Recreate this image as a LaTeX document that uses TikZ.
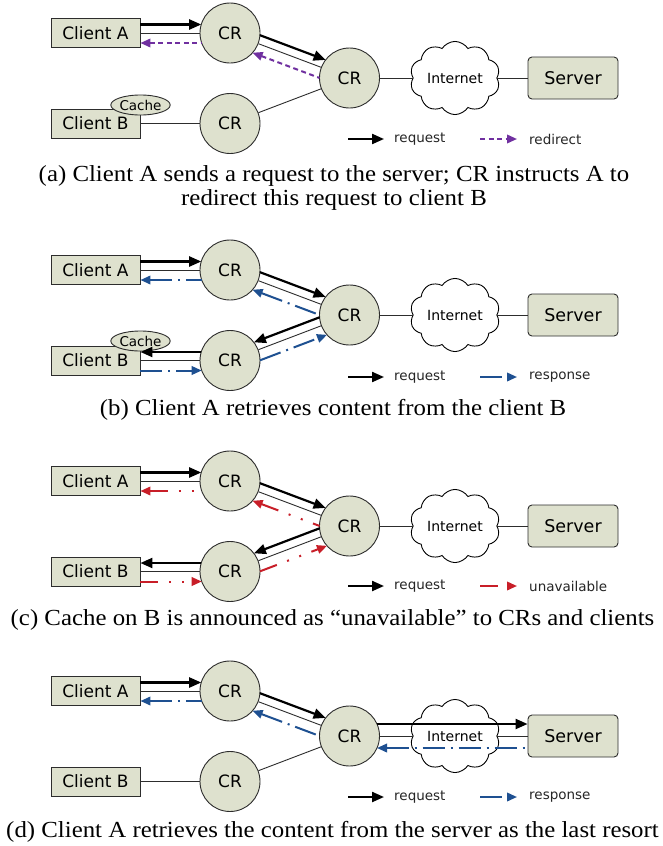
\documentclass[tikz,border=0pt]{standalone}
\usepackage{fontspec}
\usepackage{graphicx}
\setmainfont{Liberation Serif}
\newfontfamily\dfont{DejaVu Sans}
\usetikzlibrary{calc,arrows.meta,shapes.symbols,shapes.geometric}
\definecolor{nodefill}{RGB}{222,225,206}
\definecolor{edgegray}{RGB}{45,45,45}
\definecolor{purp}{RGB}{112,48,160}
\definecolor{blu}{RGB}{30,80,145}
\definecolor{rd}{RGB}{200,30,40}
\tikzset{
 client/.style={draw=edgegray, line width=0.9pt, fill=nodefill, minimum width=89pt, minimum height=29pt, inner sep=0pt, font=\dfont\fontsize{17}{17}\selectfont},
 crnode/.style={circle, draw=edgegray, line width=0.9pt, fill=nodefill, minimum size=60pt, inner sep=0pt, font=\dfont\fontsize{17}{17}\selectfont},
 servernode/.style={draw=edgegray, line width=0.9pt, fill=nodefill, rounded corners=4pt, minimum width=90pt, minimum height=42pt, inner sep=0pt, font=\dfont\fontsize{17.5}{17.5}\selectfont},
 cloudnode/.style={cloud, cloud puffs=10, cloud puff arc=115, aspect=1.25, draw=black, line width=0.9pt, fill=white, minimum width=90pt, minimum height=66pt, inner sep=0pt, font=\dfont\fontsize{14}{14}\selectfont},
 cachenode/.style={ellipse, draw=edgegray, line width=0.9pt, fill=nodefill, minimum width=53pt, minimum height=20pt, inner sep=0pt, font=\dfont\fontsize{13.5}{13.5}\selectfont},
 thinline/.style={draw=edgegray, line width=0.9pt},
 reqline/.style={draw=black, line width=2.2pt, >={Triangle[length=12pt,width=10pt]}},
 redirline/.style={draw=purp, line width=2pt, dash pattern=on 5pt off 3.5pt, >={Triangle[length=10pt,width=8.5pt]}},
 respline/.style={draw=blu, line width=2pt, dash pattern=on 22pt off 6pt on 2pt off 6pt, >={Triangle[length=10pt,width=8.5pt]}},
 unavline/.style={draw=rd, line width=2pt, dash pattern=on 18pt off 11pt on 2pt off 11pt on 2pt off 11pt, >={Triangle[length=10pt,width=8.5pt]}},
 legendtext/.style={anchor=west, inner sep=0pt, font=\dfont\fontsize{13.5}{13.5}\selectfont, text=black!85},
 captiontext/.style={inner sep=0pt, font=\fontsize{23}{25}\selectfont},
}
\newcommand{\capline}[1]{\scalebox{1.08}[1]{#1}}
% circle-to-circle offset line: style, from, to, offset, dist, angle at from, angle at to
\newcommand{\cc}[7]{\draw[#1] ($(#2)!#5!(#3)!#4!#6:(#3)$) -- ($(#3)!#5!(#2)!#4!#7:(#2)$);}
\newcommand{\basepanel}[2]{%
 \begin{scope}[shift={(0,#2)}]
  \node[client] (#1A) at (95.5,33) {Client A};
  \node[client] (#1B) at (95.5,123.5) {Client B};
  \node[crnode] (#1c1) at (230,33) {CR};
  \node[crnode] (#1c3) at (230,123.5) {CR};
  \node[crnode] (#1h) at (349.5,78) {CR};
  \node[cloudnode] (#1n) at (455,78) {Internet};
  \node[servernode] (#1s) at (573,78) {Server};
 \end{scope}
 \draw[thinline] (#1A) -- (#1c1);
 \draw[thinline] (#1B) -- (#1c3);
 \draw[thinline] (#1c1) -- (#1h);
 \draw[thinline] (#1c3) -- (#1h);
 \draw[thinline] (#1h) -- (#1n);
 \draw[thinline] (#1n) -- (#1s);
}
\newcommand{\legendrow}[4]{%
 \begin{scope}[shift={(0,#2)}]
  \coordinate (#1l1) at (348,139); \coordinate (#1l2) at (384,139);
  \coordinate (#1l3) at (480,139); \coordinate (#1l4) at (517,139);
  \node[legendtext] (#1t1) at (394,139) {request};
  \node[legendtext] (#1t2) at (529,139) {#4};
 \end{scope}
 \draw[reqline,->] (#1l1) -- (#1l2);
 \draw[#3,->] (#1l3) -- (#1l4);
}
% client A <-> CR1 and CR1 <-> hub, request forward, colored back
\newcommand{\upperpath}[2]{%
 \draw[reqline,->] ($(#1A.east)+(0,-8.5)$) -- ($(#1c1)+(-28.77,-8.5)$);
 \draw[#2,<-] ($(#1A.east)+(0,10)$) -- ($(#1c1)+(-28.3,10)$);
 \cc{reqline,->}{#1c1}{#1h}{8.5pt}{28.77pt}{90}{-90}
 \cc{#2,<-}{#1c1}{#1h}{10.5pt}{28.1pt}{-90}{90}
}
\newcommand{\lowerpath}[2]{%
 \cc{reqline,<-}{#1c3}{#1h}{8.5pt}{28.77pt}{90}{-90}
 \cc{#2,->}{#1c3}{#1h}{10.5pt}{28.1pt}{-90}{90}
 \draw[reqline,<-] ($(#1B.east)+(0,-8.5)$) -- ($(#1c3)+(-28.77,-8.5)$);
 \draw[#2,->] ($(#1B.east)+(0,10)$) -- ($(#1c3)+(-28.3,10)$);
}
\begin{document}
\begin{tikzpicture}[x=1pt,y=-1pt]
\useasboundingbox[fill=white] (0,0) rectangle (663,846);
% ---------- (a)
\basepanel{a}{0}
\node[cachenode] (acache) at (140.5,105) {Cache};
\upperpath{a}{redirline}
\legendrow{a}{0}{redirline}{redirect}
\node[captiontext] (capa1) at (334,176) {\capline{(a) Client A sends a request to the server; CR instructs A to}};
\node[captiontext] (capa2) at (334,200) {\capline{redirect this request to client B}};
% ---------- (b)
\basepanel{b}{237}
\node[cachenode] (bcache) at (140.5,341) {Cache};
\upperpath{b}{respline}
\lowerpath{b}{respline}
\legendrow{b}{238}{respline}{response}
\node[captiontext] (capb) at (333,409.5) {\capline{(b) Client A retrieves content from the client B}};
% ---------- (c)
\basepanel{c}{448}
\upperpath{c}{unavline}
\lowerpath{c}{unavline}
\legendrow{c}{447}{unavline}{unavailable}
\node[captiontext] (capc) at (332.5,620) {\capline{(c) Cache on B is announced as “unavailable” to CRs and clients}};
% ---------- (d)
\basepanel{d}{658}
\upperpath{d}{respline}
\draw[reqline,->] ($(dh)+(27.5,-12)$) -- ($(ds.west)+(0,-12)$);
\draw[respline,<-] ($(dh)+(27.5,12)$) -- ($(ds.west)+(0,12)$);
\legendrow{d}{658}{respline}{response}
\node[captiontext] (capd) at (332.5,831.5) {\capline{(d) Client A retrieves the content from the server as the last resort}};
\end{tikzpicture}
\end{document}
